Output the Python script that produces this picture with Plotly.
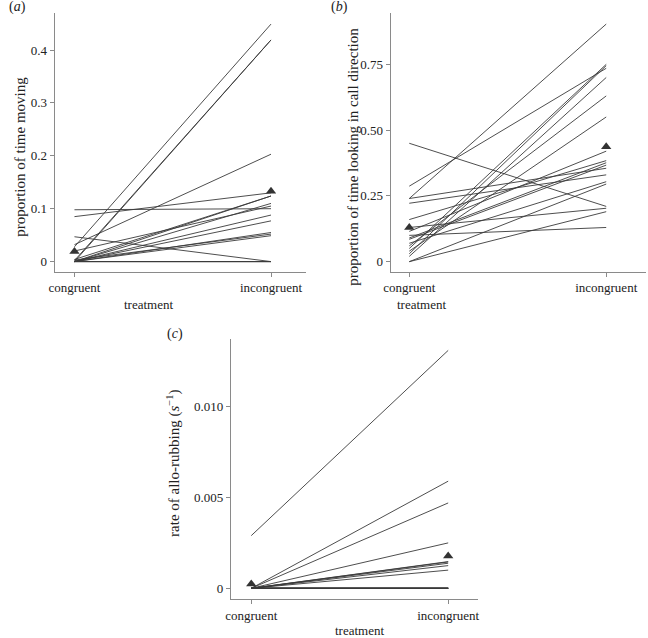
import plotly.graph_objects as go

treatments = ["congruent", "incongruent"]

# (a) proportion of time moving, one entry per individual
moving_congruent = [0.028, 0.0, 0.002, 0.032, 0.085, 0.098, 0.047, 0.0, 0.004, 0.0,
                    0.02, 0.0, 0.0, 0.0, 0.003, 0.0, 0.0, 0.0, 0.0]
moving_incongruent = [0.449, 0.419, 0.419, 0.203, 0.13, 0.10, 0.0, 0.124, 0.124, 0.110,
                      0.105, 0.088, 0.077, 0.055, 0.052, 0.049, 0.0, 0.0, 0.0]
moving_means = [0.019, 0.133]

# (b) proportion of time looking in call direction
looking_congruent = [0.45, 0.287, 0.24, 0.24, 0.222, 0.16, 0.13, 0.115, 0.10, 0.09,
                     0.085, 0.07, 0.0, 0.0, 0.05, 0.03, 0.02, 0.06, 0.04]
looking_incongruent = [0.21, 0.735, 0.903, 0.355, 0.33, 0.384, 0.203, 0.42, 0.13, 0.376,
                       0.367, 0.304, 0.295, 0.19, 0.75, 0.745, 0.70, 0.63, 0.55]
looking_means = [0.13, 0.437]

# (c) rate of allo-rubbing
rubbing_congruent = [0.0029, 0, 0, 0, 0, 0, 0, 0, 0, 0, 0, 0, 0, 0, 0, 0, 0, 0]
rubbing_incongruent = [0.0131, 0.0059, 0.0047, 0.0025, 0.00147, 0.00145, 0.00138, 0.00125,
                       0.001, 0, 0, 0, 0, 0, 0, 0, 0, 0]
rubbing_means = [0.00024, 0.00178]

W, H = 648, 638
FONT = "'Liberation Serif', 'DejaVu Serif', serif"
LINE = "#3a3a3a"
AXIS = "#8a8a8a"

fig = go.Figure()

panels = [
    ("x", "y", moving_congruent, moving_incongruent, moving_means),
    ("x2", "y2", looking_congruent, looking_incongruent, looking_means),
    ("x3", "y3", rubbing_congruent, rubbing_incongruent, rubbing_means),
]

for xa, ya, cong, inc, means in panels:
    for c, i in zip(cong, inc):
        fig.add_trace(go.Scatter(x=treatments, y=[c, i], mode="lines",
                                 line=dict(color=LINE, width=0.9),
                                 xaxis=xa, yaxis=ya, hoverinfo="skip"))
    fig.add_trace(go.Scatter(x=treatments, y=means, mode="markers",
                             marker=dict(symbol="triangle-up", size=9, color="#333333"),
                             xaxis=xa, yaxis=ya))


def px(x):
    return x / W


def py(y):
    return 1 - y / H


def xaxis(left, right, cx, ic):
    scale = (ic - cx)
    return dict(type="category", categoryorder="array", categoryarray=treatments,
                domain=[px(left), px(right)],
                range=[-(cx - left) / scale, 1 + (right - ic) / scale],
                showline=True, linecolor=AXIS, linewidth=1,
                ticks="outside", ticklen=4, tickcolor=AXIS,
                showgrid=False, zeroline=False,
                tickfont=dict(family=FONT, size=13, color="#222"))


def yaxis(top, bottom, zero_px, per_unit, vals, texts, anchor):
    return dict(domain=[py(bottom), py(top)],
                range=[-(bottom - zero_px) / per_unit, (zero_px - top) / per_unit],
                tickvals=vals, ticktext=texts, anchor=anchor,
                showline=True, linecolor=AXIS, linewidth=1,
                ticks="outside", ticklen=4, tickcolor=AXIS,
                showgrid=False, zeroline=False,
                tickfont=dict(family=FONT, size=13, color="#222"))


fig.update_layout(
    width=W, height=H, showlegend=False,
    font=dict(family=FONT, color="#222"),
    paper_bgcolor="white", plot_bgcolor="white",
    margin=dict(l=0, r=0, t=0, b=0),
    xaxis=dict(xaxis(48.3, 303, 68.3, 267.3), anchor="y"),
    yaxis=yaxis(13.3, 271.7, 261.6, 529.0,
                [0, 0.1, 0.2, 0.3, 0.4], ["0", "0.1", "0.2", "0.3", "0.4"], "x"),
    xaxis2=dict(xaxis(388.3, 647, 407.3, 606.7), anchor="y2"),
    yaxis2=yaxis(13.3, 271.7, 261.67, 263.1,
                 [0, 0.25, 0.5, 0.75], ["0", "0.25", "0.50", "0.75"], "x2"),
    xaxis3=dict(xaxis(226.7, 476.7, 247.3, 446.7), anchor="y3"),
    yaxis3=yaxis(339.3, 599.3, 588.3, 18160.0,
                 [0, 0.005, 0.010], ["0", "0.005", "0.010"], "x3"),
)

notes = [
    ("(<i>a</i>)", 0, 7, 0, "left", 14),
    ("(<i>b</i>)", 326, 7, 0, "left", 14),
    ("(<i>c</i>)", 160, 334, 0, "left", 14),
    ("treatment", 143, 304, 0, "center", 13),
    ("treatment", 420, 304, 0, "center", 13),
    ("treatment", 357, 630, 0, "center", 13),
    ("proportion of time moving", 13, 157, -90, "center", 15),
    ("proportion of time looking in call direction", 350, 157, -90, "center", 15),
    ("rate of allo-rubbing (<i>s</i><sup>−1</sup>)", 168, 463, -90, "center", 15),
]
for text, x, y, ang, xa, size in notes:
    fig.add_annotation(text=text, x=px(x), y=py(y), xref="paper", yref="paper",
                       showarrow=False, textangle=ang, xanchor=xa, yanchor="middle",
                       font=dict(family=FONT, size=size, color="#222"))

# drop the page's default body margin so the figure fills the window exactly
fig.write_html("out.html", config={"displayModeBar": False},
               post_script="document.body.style.margin='0';")
